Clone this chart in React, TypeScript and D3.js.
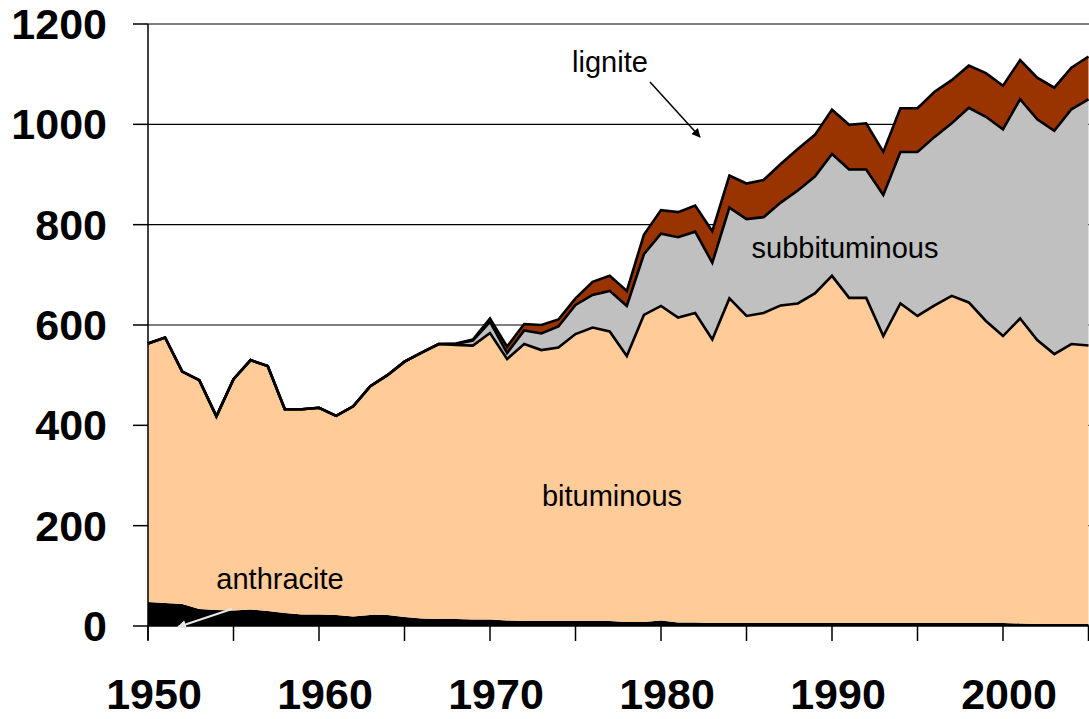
import React from 'react';
import * as d3 from 'd3';

const years: number[] = d3.range(1950, 2006);

const anthracite = [48, 46, 44, 34, 32, 31, 33, 30, 26, 23, 23, 22, 19, 22, 22, 18, 15, 14, 14, 13,
  13, 11, 10, 10, 10, 10, 10, 10, 8, 8, 11, 7, 7, 6, 6, 6, 6, 6, 6, 6,
  6, 6, 6, 6, 6, 6, 6, 6, 6, 6, 6, 5, 4, 4, 4, 4];

const bituminous = [515, 529, 463, 456, 386, 461, 497, 488, 406, 409, 412, 397, 419, 456, 478, 509, 530, 548, 546, 546,
  571, 521, 552, 540, 545, 572, 585, 577, 530, 612, 627, 608, 617, 565, 647, 612, 618, 633, 637, 657,
  692, 648, 648, 572, 637, 612, 633, 652, 639, 602, 572, 608, 566, 538, 558, 555];

const subbituminous = [0, 0, 0, 0, 0, 0, 0, 0, 0, 0, 0, 0, 0, 0, 0, 0, 0, 0, 2, 10,
  22, 12, 27, 33, 42, 58, 65, 81, 100, 121, 144, 160, 162, 153, 181, 193, 191, 205, 225, 233,
  243, 256, 256, 281, 302, 327, 336, 344, 388, 407, 412, 437, 440, 445, 468, 491];

const lignite = [0, 0, 0, 0, 0, 0, 0, 0, 0, 0, 0, 0, 0, 0, 0, 0, 0, 0, 1, 2,
  7, 13, 13, 17, 14, 13, 26, 30, 30, 39, 47, 50, 52, 63, 64, 71, 74, 77, 83, 83,
  88, 89, 92, 86, 87, 87, 90, 86, 84, 87, 87, 78, 83, 86, 83, 85];

const seriesKeys = ['anthracite', 'bituminous', 'subbituminous', 'lignite'];
const seriesColors = ['#000000', '#FFCC99', '#C0C0C0', '#993300'];

const yTicks = [0, 200, 400, 600, 800, 1000, 1200];
const gridValues = [200, 400, 600, 800, 1000, 1200];
const xTickYears: number[] = d3.range(1950, 2006, 5);
const xLabelYears = [1950, 1960, 1970, 1980, 1990, 2000];

const W = 1089;
const H = 719;
const x = d3.scaleLinear().domain([1950, 2005]).range([148, 1088.5]);
const y = d3.scaleLinear().domain([0, 1200]).range([626, 24]);

const labelFont = '"Liberation Sans", Arial, sans-serif';

export default function App() {
  const rows = years.map((yr, i) => ({
    year: yr,
    anthracite: anthracite[i],
    bituminous: bituminous[i],
    subbituminous: subbituminous[i],
    lignite: lignite[i],
  }));
  const stacked = d3.stack<any>().keys(seriesKeys)(rows);
  const area = d3.area<any>()
    .x((d) => x(d.data.year))
    .y0((d) => y(d[0]))
    .y1((d) => y(d[1]));
  const line = d3.line<any>()
    .x((d) => x(d.data.year))
    .y((d) => y(d[1]));

  return (
    <svg width={W} height={H} style={{ position: 'absolute', left: 0, top: 0, background: '#fff' }}>
      <defs>
        <marker id="arrBlack" viewBox="0 0 10 10" refX="9" refY="5" markerWidth="9" markerHeight="9" orient="auto" markerUnits="userSpaceOnUse">
          <path d="M0,0 L10,5 L0,10 z" fill="#000" />
        </marker>
        <marker id="arrWhite" viewBox="0 0 10 10" refX="9" refY="5" markerWidth="9" markerHeight="9" orient="auto" markerUnits="userSpaceOnUse">
          <path d="M0,0 L10,5 L0,10 z" fill="#e8e8e8" />
        </marker>
      </defs>
      {gridValues.map((v) => (
        <line key={'g' + v} x1={148} x2={W} y1={y(v)} y2={y(v)} stroke="#000" strokeWidth={1.2} />
      ))}
      {stacked.map((s, i) => (
        <path key={'a' + i} d={area(s) || ''} fill={seriesColors[i]} stroke="none" />
      ))}
      {stacked.slice(1).map((s, i) => (
        <path key={'l' + i} d={line(s) || ''} fill="none" stroke="#000" strokeWidth={2.6} strokeLinejoin="miter" />
      ))}
      {/* axes */}
      <line x1={148} x2={148} y1={24} y2={640} stroke="#000" strokeWidth={1.5} />
      <line x1={148} x2={W} y1={626} y2={626} stroke="#000" strokeWidth={1.5} />
      {yTicks.map((v) => (
        <g key={'yt' + v}>
          <line x1={133} x2={148} y1={y(v)} y2={y(v)} stroke="#000" strokeWidth={1.5} />
          <text x={107} y={y(v) + 15} textAnchor="end" fontFamily={labelFont} fontWeight="bold" fontSize={43} fill="#000">{v}</text>
        </g>
      ))}
      {xTickYears.map((yr) => (
        <line key={'xt' + yr} x1={x(yr)} x2={x(yr)} y1={626} y2={641} stroke="#000" strokeWidth={1.5} />
      ))}
      {xLabelYears.map((yr) => (
        <text key={'xl' + yr} x={x(yr) + 6} y={709} textAnchor="middle" fontFamily={labelFont} fontWeight="bold" fontSize={43} fill="#000">{yr}</text>
      ))}
      {/* annotations */}
      <text x={610} y={72} textAnchor="middle" fontFamily={labelFont} fontSize={29} fill="#000">lignite</text>
      <line x1={650} y1={82} x2={700} y2={137} stroke="#000" strokeWidth={1.5} markerEnd="url(#arrBlack)" />
      <text x={845} y={258} textAnchor="middle" fontFamily={labelFont} fontSize={29} fill="#000">subbituminous</text>
      <text x={612} y={506} textAnchor="middle" fontFamily={labelFont} fontSize={29} fill="#000">bituminous</text>
      <text x={280} y={589} textAnchor="middle" fontFamily={labelFont} fontSize={29} fill="#000">anthracite</text>
      <line x1={232} y1={609} x2={178} y2={627} stroke="#e8e8e8" strokeWidth={2} markerEnd="url(#arrWhite)" />
    </svg>
  );
}
